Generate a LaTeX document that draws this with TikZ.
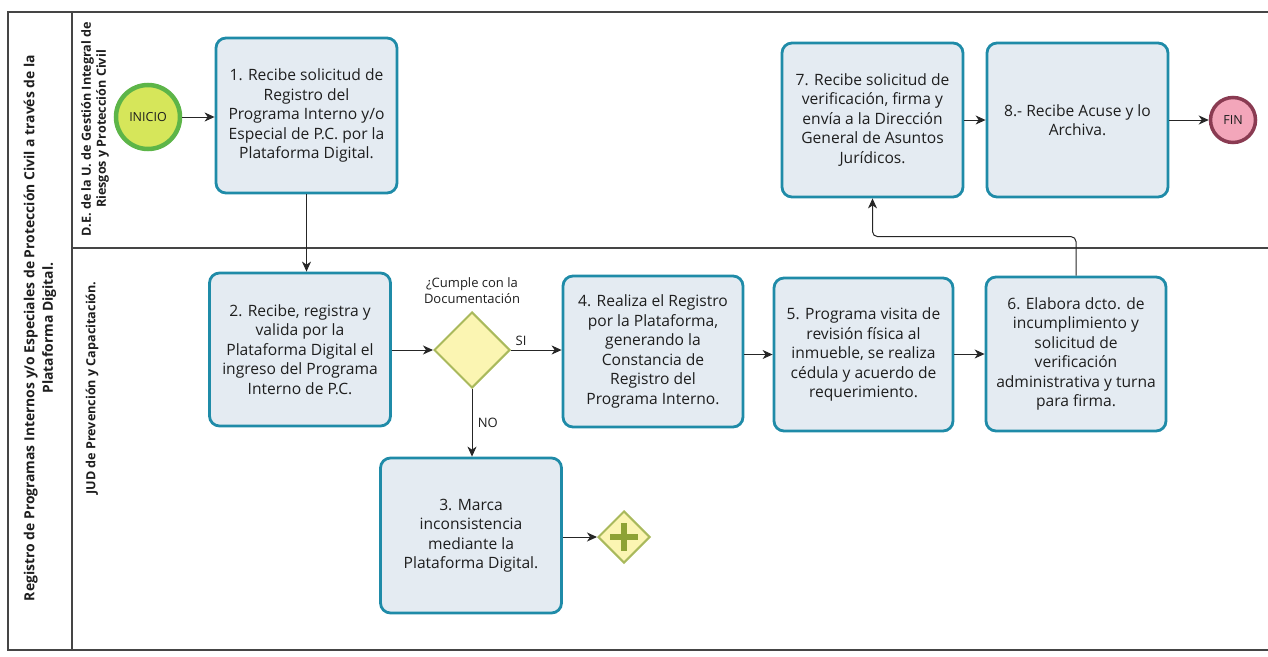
\documentclass[tikz,border=0pt]{standalone}
\usepackage{fontspec}
\setmainfont{Open Sans}
\usetikzlibrary{arrows.meta,shapes.geometric,calc}

\definecolor{boxfill}{HTML}{E4EBF2}
\definecolor{boxline}{HTML}{1F8BA8}
\definecolor{txt}{HTML}{1E1E1E}
\definecolor{framec}{HTML}{454545}
\definecolor{startfill}{HTML}{D6E65A}
\definecolor{startline}{HTML}{5DB548}
\definecolor{endfill}{HTML}{F3A6BA}
\definecolor{endline}{HTML}{8A3B52}
\definecolor{gwfill}{HTML}{FBF5B2}
\definecolor{gwline}{HTML}{A9B95C}
\definecolor{plusc}{HTML}{8DA235}

\tikzset{
  task/.style={draw=boxline, line width=2.8pt, fill=boxfill, rounded corners=10pt,
    minimum width=#1, align=center, text=txt,
    font=\fontsize{15.6}{19.5}\selectfont, inner sep=0pt},
  task/.default=181pt,
  flow/.style={draw=black!85, line width=1pt, -{Stealth[length=10pt,width=9pt,inset=3pt]}},
  lanelabel/.style={rotate=90, align=center, font=\bfseries\fontsize{12.6}{15}\selectfont, text=txt},
  small/.style={font=\fontsize{13}{16}\selectfont, text=txt, align=center},
}

\begin{document}
\begin{tikzpicture}[x=1pt, y=-1pt]
\useasboundingbox (0,0) rectangle (1268,656);

% pool frame and lanes
\draw[framec, line width=1.3pt] (1268,12) -- (8,12) -- (8,650) -- (1268,650);
\draw[framec, line width=1.3pt] (72,12) -- (72,650);
\draw[framec, line width=1.3pt] (72,248) -- (1268,248);

% pool title
\node[rotate=90, align=center, font=\bfseries\fontsize{13.9}{18.5}\selectfont, text=txt] (title) at (40,328)
  {Registro de Programas Internos y/o Especiales de Protección Civil a través de la\\Plataforma Digital.};

% lane labels
\node[lanelabel] (laneA) at (95,129) {D.E. de la U. de Gestión Integral de\\Riesgos y Protección Civil};
\node[lanelabel] (laneB) at (92,388) {JUD de Prevención y Capacitación.};

% events
\node[circle, draw=startline, line width=4.5pt, fill=startfill, minimum size=64pt, inner sep=0pt,
  font=\fontsize{12.5}{14}\selectfont, text=txt] (inicio) at (148,117) {INICIO};
\node[circle, draw=endline, line width=3.5pt, fill=endfill, minimum size=45pt, inner sep=0pt,
  font=\fontsize{12.5}{14}\selectfont, text=txt] (fin) at (1233,120) {FIN};

% tasks
\node[task, minimum height=155pt] (t1) at (306.5,115.5) {1. Recibe solicitud de\\Registro del\\Programa Interno y/o\\Especial de P.C. por la\\Plataforma Digital.};
\node[task, minimum height=153pt] (t2) at (300,349.5) {2. Recibe, registra y\\valida por la\\Plataforma Digital el\\ingreso del Programa\\Interno de P.C.};
\node[task, minimum height=155pt] (t3) at (471,535.5) {3. Marca\\inconsistencia\\mediante la\\Plataforma Digital.};
\node[task=180pt, minimum height=151pt] (t4) at (653,351.5) {4. Realiza el Registro\\por la Plataforma,\\generando la\\Constancia de\\Registro del\\Programa Interno.};
\node[task=179pt, minimum height=153pt] (t5) at (863.5,354.5) {5. Programa visita de\\revisión física al\\inmueble, se realiza\\cédula y acuerdo de\\requerimiento.};
\node[task=180pt, minimum height=154pt] (t6) at (1076,354) {6. Elabora dcto. de\\incumplimiento y\\solicitud de\\verificación\\administrativa y turna\\para firma.};
\node[task, minimum height=154pt] (t7) at (872.5,120) {7. Recibe solicitud de\\verificación, firma y\\envía a la Dirección\\General de Asuntos\\Jurídicos.};
\node[task, minimum height=154pt] (t8) at (1077.5,120) {8.- Recibe Acuse y lo\\Archiva.};

% gateways
\node[diamond, draw=gwline, line width=2pt, fill=gwfill, minimum width=76pt, minimum height=76pt, inner sep=0pt] (gw) at (472,350) {};
\node[small, anchor=south] (gwq) at (472,307) {¿Cumple con la\\Documentación};
\node[diamond, draw=gwline, line width=2pt, fill=gwfill, minimum width=52pt, minimum height=52pt, inner sep=0pt] (par) at (624,537) {};
\fill[plusc] ($(par)+(-3.2,-14)$) rectangle ($(par)+(3.2,14)$);
\fill[plusc] ($(par)+(-14,-3.2)$) rectangle ($(par)+(14,3.2)$);

% sequence flows
\draw[flow] (inicio) -- (inicio -| t1.west);
\draw[flow] (t1.south) -- (t1.south |- t2.north);
\draw[flow] (t2.east |- gw) -- (gw.west);
\draw[flow] (gw.east) -- node[small, above, pos=0.2, yshift=1pt] (si) {SI} (gw -| t4.west);
\draw[flow] (gw.south) -- node[small, right, pos=0.5, xshift=2pt] (no) {NO} (gw |- t3.north);
\draw[flow] (t3.east |- par) -- (par.west);
\draw[flow] (t4.east |- t5) -- (t5.west);
\draw[flow] (t5.east |- t6) -- (t6.west);
\draw[flow, rounded corners=5pt] (t6.north) -- ++(0,-39) -| (t7.south);
\draw[flow] (t7.east) -- (t8.west);
\draw[flow] (t8.east) -- (fin.west);
\end{tikzpicture}
\end{document}
